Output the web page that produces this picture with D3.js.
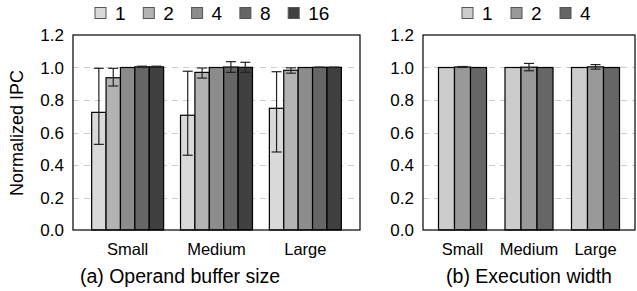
<!DOCTYPE html>
<html>
<head>
<meta charset="utf-8">
<script src="https://cdn.jsdelivr.net/npm/d3@7"></script>
<style>
  body { margin: 0; background: #fff; }
  svg { display: block; font-family: "Liberation Sans", Arial, sans-serif; }
</style>
</head>
<body>
<svg id="chart" width="637" height="291"></svg>
<script>
// categories and series
var groups = ["Small", "Medium", "Large"];

// (a) operand buffer size
var bufSeries = ["1", "2", "4", "8", "16"];
var bufColors = ["#d9d9d9", "#b3b3b3", "#8c8c8c", "#666666", "#404040"];
var bufValues = [
    [0.724, 0.937, 1.0, 1.004, 1.004],
    [0.706, 0.970, 1.0, 1.003, 1.001],
    [0.749, 0.983, 1.0, 1.001, 1.001]
];
var bufLow = [
    [0.527, 0.886, 1.0, 1.000, 1.000],
    [0.460, 0.935, 1.0, 0.970, 0.970],
    [0.480, 0.965, 1.0, 1.000, 1.000]
];
var bufHigh = [
    [0.995, 0.995, 1.0, 1.008, 1.008],
    [0.977, 0.997, 1.0, 1.036, 1.032],
    [0.974, 0.998, 1.0, 1.002, 1.002]
];

// (b) execution width
var widthSeries = ["1", "2", "4"];
var widthColors = ["#cccccc", "#999999", "#666666"];
var widthValues = [
    [1.0, 1.003, 1.0],
    [1.0, 1.002, 1.0],
    [1.0, 1.004, 1.0]
];
var widthLow = [
    [1.0, 1.000, 1.0],
    [1.0, 0.980, 1.0],
    [1.0, 0.990, 1.0]
];
var widthHigh = [
    [1.0, 1.006, 1.0],
    [1.0, 1.025, 1.0],
    [1.0, 1.018, 1.0]
];

var yTicks = [0, 0.2, 0.4, 0.6, 0.8, 1.0, 1.2];

var svg = d3.select("#chart");
var plotTop = 35, plotBottom = 230;

function panel(opt) {
    var g = svg.append("g");
    var y = d3.scaleLinear().domain([0, 1.2]).range([plotBottom, plotTop]);
    var x0 = d3.scaleBand().domain(groups)
        .range([opt.left, opt.right])
        .paddingInner(opt.pi).paddingOuter(opt.po);
    var x1 = d3.scaleBand().domain(opt.series).range([0, x0.bandwidth()]);

    // grid
    g.selectAll(".grid").data(yTicks.filter(function (d) { return d > 0 && d < 1.2; }))
        .enter().append("line")
        .attr("x1", opt.left).attr("x2", opt.right)
        .attr("y1", function (d) { return Math.round(y(d)) + 0.5; })
        .attr("y2", function (d) { return Math.round(y(d)) + 0.5; })
        .style("stroke", "#cccccc")
        .style("stroke-width", 1)
        .style("stroke-dasharray", "6,5");

    // bars
    var grp = g.selectAll(".grp").data(groups).enter().append("g")
        .attr("transform", function (d) { return "translate(" + x0(d) + ",0)"; });

    grp.selectAll("rect").data(function (d, i) {
        return opt.series.map(function (s, j) {
            return { s: s, j: j, v: opt.values[i][j] };
        });
    }).enter().append("rect")
        .attr("x", function (d) { return x1(d.s); })
        .attr("y", function (d) { return y(d.v); })
        .attr("width", x1.bandwidth())
        .attr("height", function (d) { return y(0) - y(d.v); })
        .attr("fill", function (d) { return opt.colors[d.j]; })
        .attr("stroke", "#000")
        .attr("stroke-width", 1.2);

    // error bars
    var eb = grp.selectAll(".eb").data(function (d, i) {
        return opt.series.map(function (s, j) {
            return { s: s, lo: opt.low[i][j], hi: opt.high[i][j] };
        }).filter(function (d) { return d.hi - d.lo > 0.001; });
    }).enter().append("g");
    var cx = function (d) { return x1(d.s) + x1.bandwidth() / 2; };
    eb.append("line")
        .attr("x1", cx).attr("x2", cx)
        .attr("y1", function (d) { return y(d.lo); })
        .attr("y2", function (d) { return y(d.hi); });
    eb.append("line")
        .attr("x1", function (d) { return cx(d) - 5; }).attr("x2", function (d) { return cx(d) + 5; })
        .attr("y1", function (d) { return y(d.lo); })
        .attr("y2", function (d) { return y(d.lo); });
    eb.append("line")
        .attr("x1", function (d) { return cx(d) - 5; }).attr("x2", function (d) { return cx(d) + 5; })
        .attr("y1", function (d) { return y(d.hi); })
        .attr("y2", function (d) { return y(d.hi); });
    eb.selectAll("line").style("stroke", "#222").style("stroke-width", 1.2);

    // frame
    g.append("rect")
        .attr("x", opt.left).attr("y", plotTop)
        .attr("width", opt.right - opt.left).attr("height", plotBottom - plotTop)
        .attr("fill", "none").attr("stroke", "#000").attr("stroke-width", 1.2);

    // y tick labels
    g.selectAll(".yt").data(yTicks).enter().append("text")
        .attr("x", opt.left - 9)
        .attr("y", function (d) { return y(d) + 6; })
        .attr("text-anchor", "end")
        .style("font-size", "17px")
        .text(function (d) { return d3.format(".1f")(d); });

    // x labels
    g.selectAll(".xt").data(groups).enter().append("text")
        .attr("x", function (d) { return x0(d) + x0.bandwidth() / 2; })
        .attr("y", 255)
        .attr("text-anchor", "middle")
        .style("font-size", "16.5px")
        .text(function (d) { return d; });

    // caption
    g.append("text")
        .attr("x", opt.captionX).attr("y", 283)
        .attr("text-anchor", "middle")
        .style("font-size", "19.5px")
        .text(opt.caption);

    // legend
    var lg = g.selectAll(".lg").data(opt.series).enter().append("g")
        .attr("transform", function (d, i) { return "translate(" + (opt.legendX + i * opt.legendStep) + ",7.5)"; });
    lg.append("rect")
        .attr("width", 11).attr("height", 11)
        .attr("fill", function (d, i) { return opt.colors[i]; })
        .attr("stroke", "#555").attr("stroke-width", 1);
    lg.append("text")
        .attr("x", 20).attr("y", 12)
        .style("font-size", "19px")
        .text(function (d) { return d; });
}

panel({
    left: 73, right: 360, pi: 0.19, po: 0.21,
    series: bufSeries, colors: bufColors,
    values: bufValues, low: bufLow, high: bufHigh,
    caption: "(a) Operand buffer size", captionX: 180,
    legendX: 95, legendStep: 48.3
});

panel({
    left: 423, right: 635, pi: 0.278, po: 0.233,
    series: widthSeries, colors: widthColors,
    values: widthValues, low: widthLow, high: widthHigh,
    caption: "(b) Execution width", captionX: 529,
    legendX: 462, legendStep: 49
});

// y axis title
svg.append("text")
    .attr("transform", "translate(23,133) rotate(-90)")
    .attr("text-anchor", "middle")
    .style("font-size", "18px")
    .text("Normalized IPC");
</script>
</body>
</html>
